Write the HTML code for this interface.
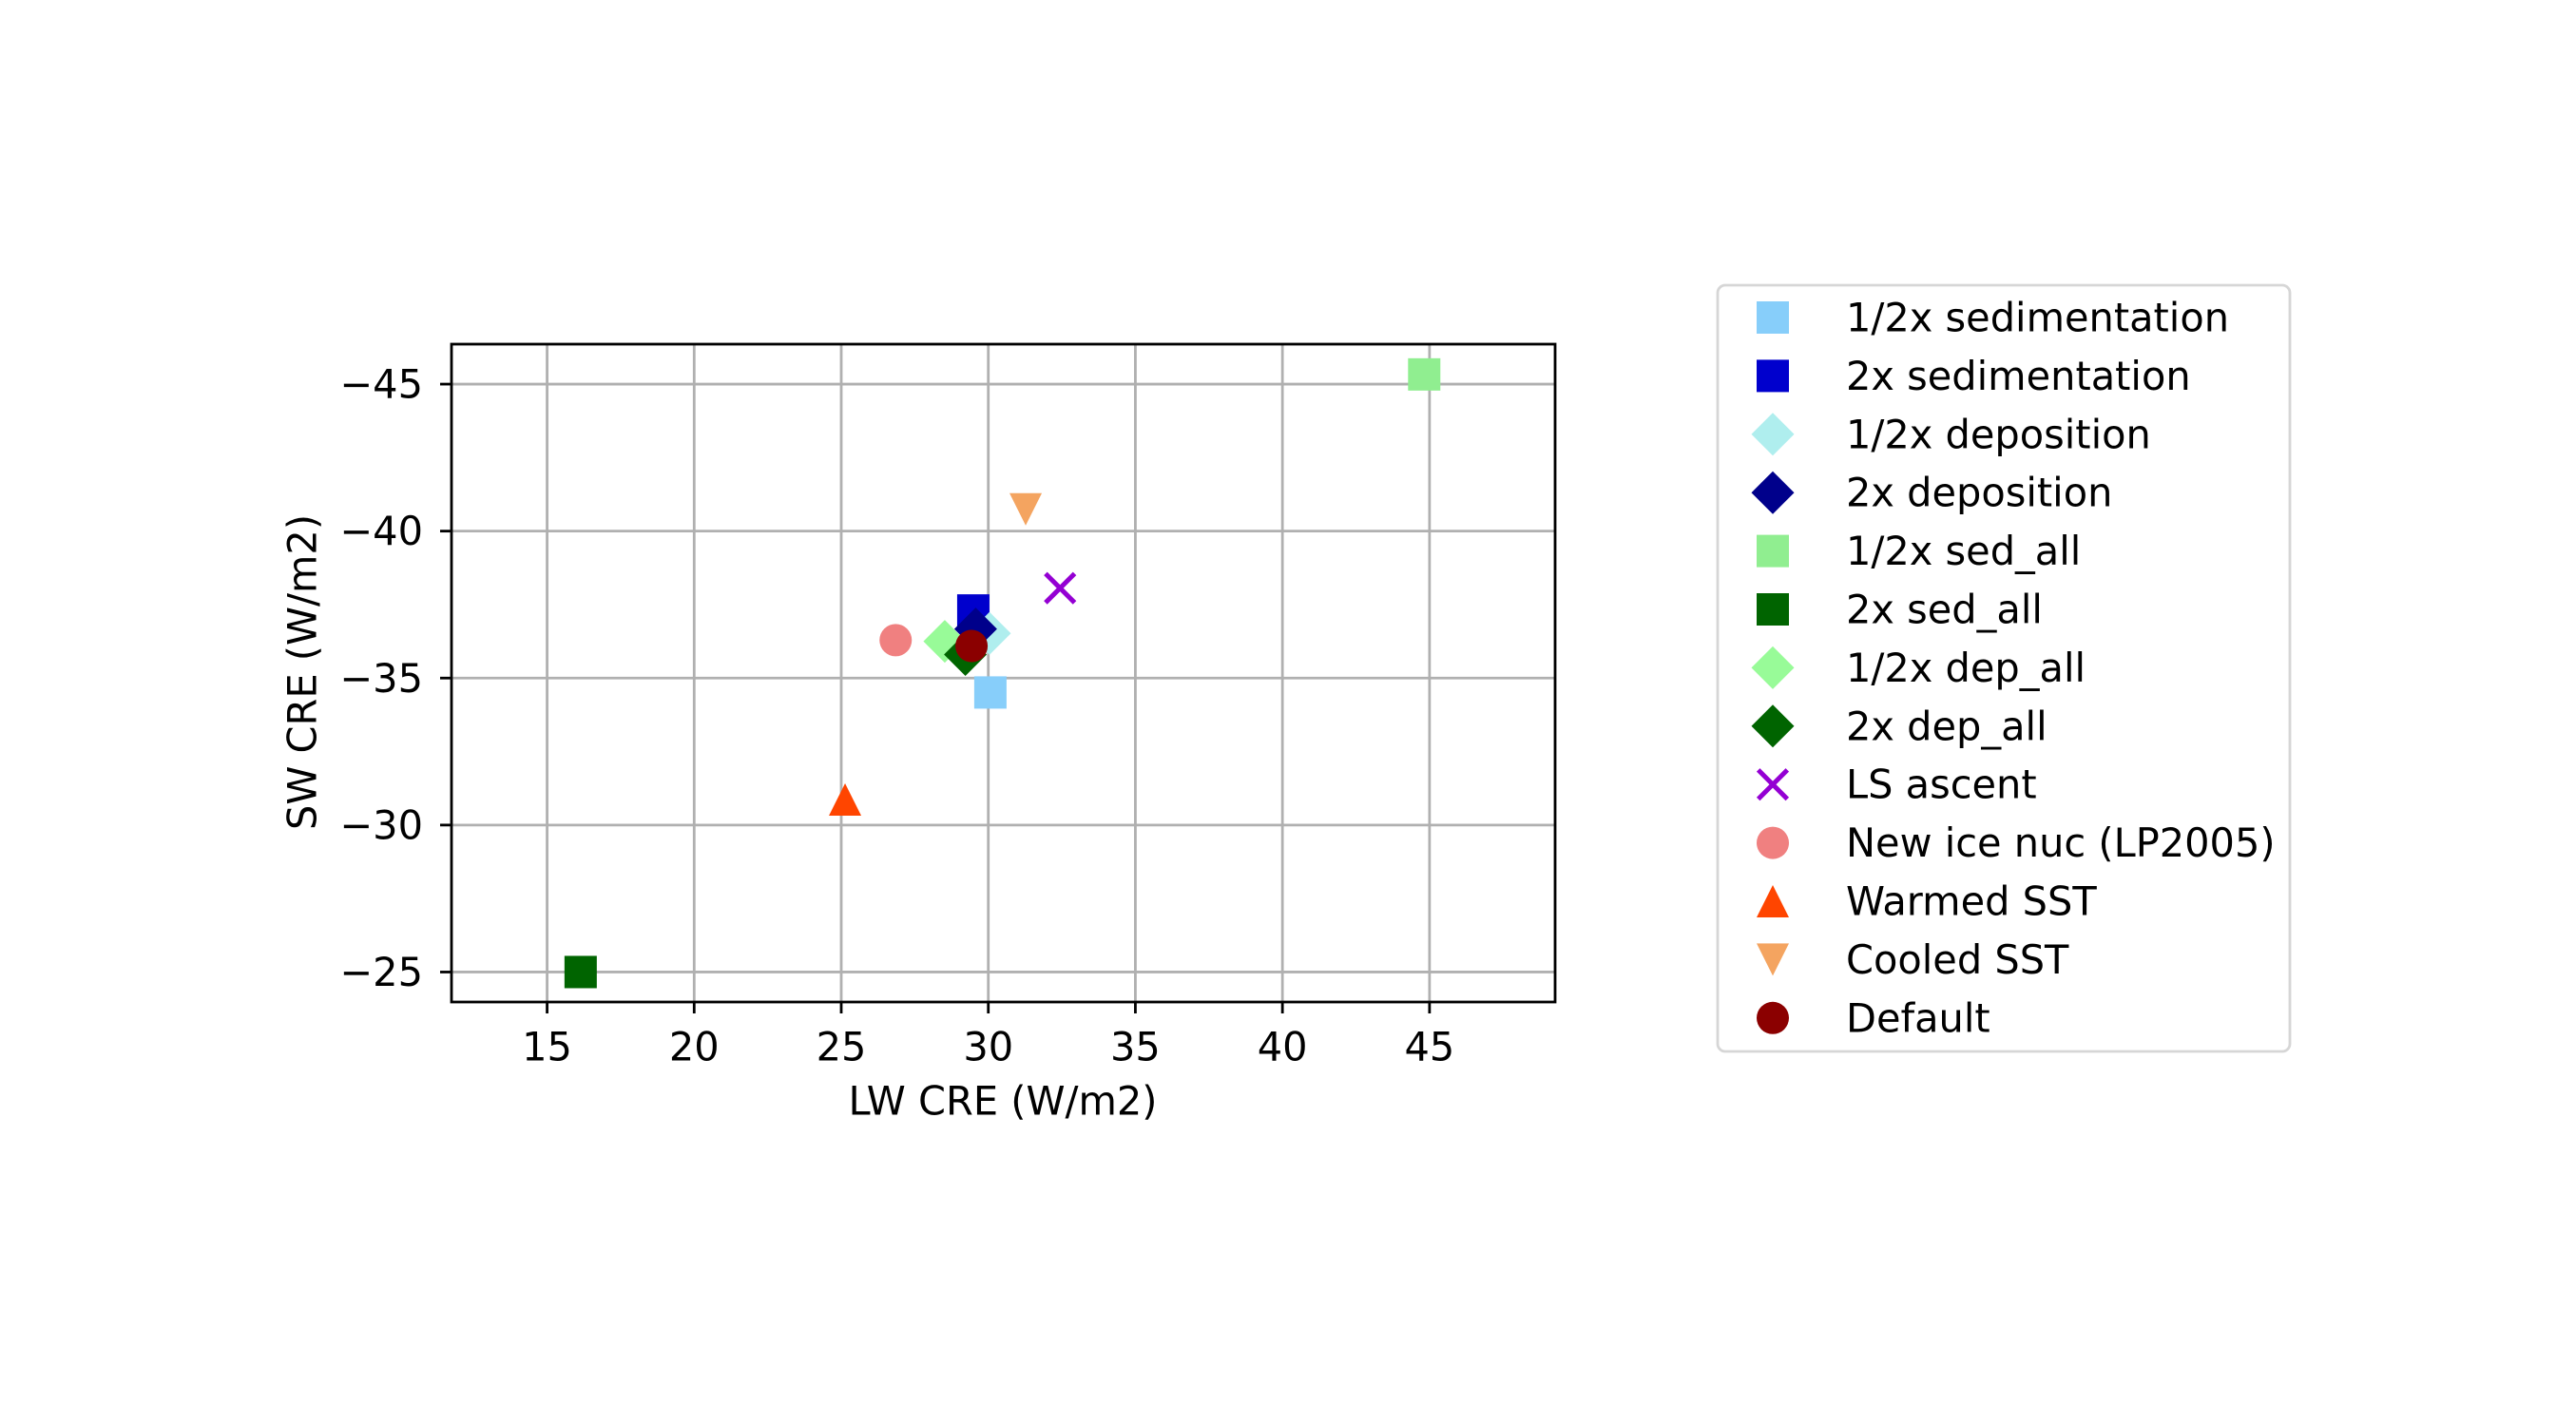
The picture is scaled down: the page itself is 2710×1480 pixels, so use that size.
<!DOCTYPE html>
<html><head><meta charset="utf-8"><style>
html,body{margin:0;padding:0;background:#fff;}
svg{display:block;font-family:"DejaVu Sans","Liberation Sans",sans-serif;}
</style></head><body>
<svg id="chart" width="2710" height="1480" viewBox="0 0 2710 1480" xmlns="http://www.w3.org/2000/svg">
<rect width="2710" height="1480" fill="#fff"/>
<g id="grid"></g>
<g id="ticks"></g>
<g id="marks"></g>
<rect id="frame" x="475" y="362" width="1161" height="692" fill="none" stroke="#000" stroke-width="2.8"/>
<text x="1055" y="1158" font-size="41.5" text-anchor="middle" dominant-baseline="central">LW CRE (W/m2)</text>
<text x="318" y="707" font-size="41.5" text-anchor="middle" dominant-baseline="central" transform="rotate(-90 318 707)">SW CRE (W/m2)</text>
<rect x="1807" y="300" width="602" height="806" rx="8" fill="#fff" fill-opacity="0.8" stroke="#d6d6d6" stroke-width="2.8"/>
<g id="legend"></g>
</svg>
<script>
const labels = ["1/2x sedimentation","2x sedimentation","1/2x deposition","2x deposition","1/2x sed_all","2x sed_all","1/2x dep_all","2x dep_all","LS ascent","New ice nuc (LP2005)","Warmed SST","Cooled SST","Default"];
const lwValues = [30.07,29.49,30.04,29.57,44.82,16.14,28.52,29.22,32.44,26.85,25.13,31.27,29.43];
const swValues = [-34.51,-37.3,-36.52,-36.67,-45.33,-25.0,-36.25,-35.8,-38.06,-36.29,-30.87,-40.74,-36.09];
const colors = ["#87cefa","#0000cd","#afeeee","#00008b","#90ee90","#006400","#98fb98","#006400","#9400d3","#f08080","#ff4500","#f4a460","#8b0000"];
const shapes = ["s","s","D","D","s","s","D","D","x","o","^","v","o"];
const xTicks = [15,20,25,30,35,40,45];
const yTicks = [-45,-40,-35,-30,-25];

const X0=475,X1=1636,Y0=362,Y1=1054;
const xmin=11.75,xmax=49.27,ytop=-46.36,ybot=-23.98;
const sx=v=>X0+(v-xmin)/(xmax-xmin)*(X1-X0);
const sy=v=>Y0+(v-ytop)/(ybot-ytop)*(Y1-Y0);
const NS="http://www.w3.org/2000/svg";
function mk(tag,attrs,parent){const e=document.createElementNS(NS,tag);for(const k in attrs)e.setAttribute(k,attrs[k]);parent.appendChild(e);return e;}
const grid=document.getElementById('grid'),ticks=document.getElementById('ticks');
xTicks.forEach(t=>{const x=sx(t);
 const g=mk('line',{x1:x,x2:x,y1:Y0,y2:Y1,stroke:'#b0b0b0','stroke-width':2.8},grid);
 
 
 const tk=mk('line',{x1:x,x2:x,y1:Y1,y2:Y1+12,stroke:'#000','stroke-width':2.8},ticks);
 
 
 const tl=mk('text',{x:x,y:Y1+47,'font-size':41.5,'text-anchor':'middle','dominant-baseline':'central'},ticks);
 tl.textContent=String(t);
 
 
});
yTicks.forEach(t=>{const y=sy(t);
 const g=mk('line',{x1:X0,x2:X1,y1:y,y2:y,stroke:'#b0b0b0','stroke-width':2.8},grid);
 
 
 const tk=mk('line',{x1:X0-12,x2:X0,y1:y,y2:y,stroke:'#000','stroke-width':2.8},ticks);
 
 
 const tl=mk('text',{x:X0-30,y:y,'font-size':41.5,'text-anchor':'end','dominant-baseline':'central'},ticks);
 tl.textContent='\u2212'+String(Math.abs(t));
 
 
});
function marker(shape,cx,cy,color,parent){
 const r=17;let e;
 if(shape==='s')e=mk('rect',{x:cx-r,y:cy-r,width:2*r,height:2*r,fill:color},parent);
 else if(shape==='D'){const d=22.5;e=mk('polygon',{points:`${cx},${cy-d} ${cx+d},${cy} ${cx},${cy+d} ${cx-d},${cy}`,fill:color},parent);}
 else if(shape==='o')e=mk('ellipse',{cx:cx,cy:cy,rx:r,ry:r,fill:color},parent);
 else if(shape==='^')e=mk('polygon',{points:`${cx},${cy-r} ${cx+r},${cy+r} ${cx-r},${cy+r}`,fill:color},parent);
 else if(shape==='v')e=mk('polygon',{points:`${cx},${cy+r} ${cx+r},${cy-r} ${cx-r},${cy-r}`,fill:color},parent);
 else {e=mk('path',{d:`M${cx-r*0.9},${cy-r*0.9}L${cx+r*0.9},${cy+r*0.9}M${cx-r*0.9},${cy+r*0.9}L${cx+r*0.9},${cy-r*0.9}`,stroke:color,'stroke-width':5,fill:'none'},parent);}
 return e;
}
const marks=document.getElementById('marks'),legend=document.getElementById('legend');
labels.forEach((lab,i)=>{
 const m=marker(shapes[i],sx(lwValues[i]),sy(swValues[i]),colors[i],marks);
 
 
 const ly=334+i*61.4;
 const lm=marker(shapes[i],1865,ly,colors[i],legend);
 
 
 const t=mk('text',{x:1942,y:ly,'font-size':41.5,'dominant-baseline':'central'},legend);
 t.textContent=lab;
 
 
});
</script>
</body></html>
